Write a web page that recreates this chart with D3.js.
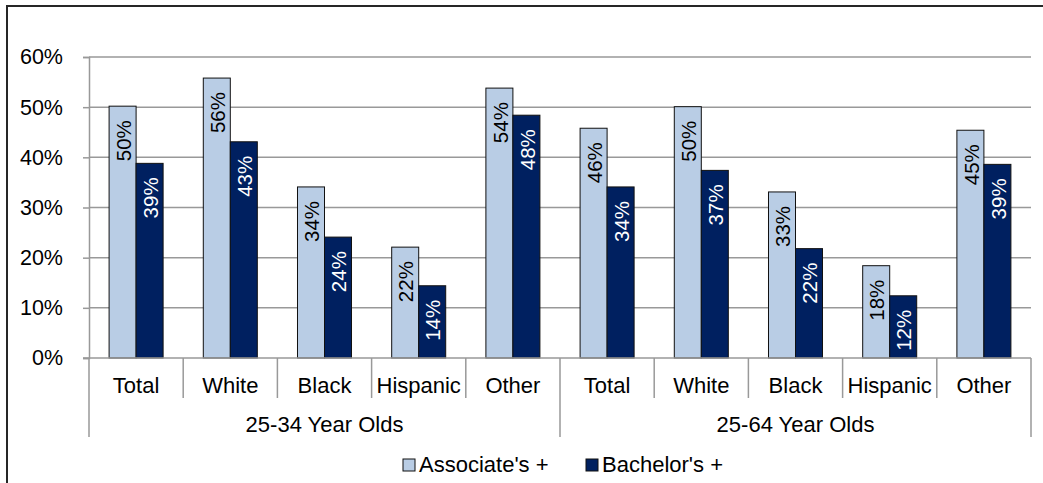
<!DOCTYPE html>
<html>
<head>
<meta charset="utf-8">
<script src="https://cdn.jsdelivr.net/npm/d3@7/dist/d3.min.js"></script>
<style>
  body { margin: 0; background: #fff; }
  svg { display: block; font-family: "Liberation Sans", Arial, sans-serif; }
</style>
</head>
<body>
<div id="chart"></div>
<script>
// chart data
var groups = ["25-34 Year Olds", "25-64 Year Olds"];
var races = ["Total", "White", "Black", "Hispanic", "Other"];
var seriesNames = ["Associate's +", "Bachelor's +"];
var associates = [50.2, 55.8, 34.1, 22.1, 53.8, 45.8, 50.1, 33.1, 18.4, 45.4];
var bachelors = [38.8, 43.1, 24.1, 14.4, 48.4, 34.1, 37.4, 21.8, 12.4, 38.6];
var yTicks = [0, 10, 20, 30, 40, 50, 60];

var seriesColors = ["#b9cde5", "#002060"];
var labelColors = ["#000", "#fff"];

var width = 1043, height = 483;
var margin = { left: 89, right: 12, top: 57, bottom: 125 };
var fontFam = "Liberation Sans, Arial, sans-serif";

var svg = d3.select("#chart").append("svg")
    .attr("width", width)
    .attr("height", height);

// outer frame, runs off right and bottom edges like the picture
svg.append("rect")
    .attr("x", 7).attr("y", 6)
    .attr("width", width + 10).attr("height", height + 10)
    .attr("fill", "none")
    .attr("stroke", "#262626")
    .attr("stroke-width", 2);

// build categories: each group times each race
var cats = [];
groups.forEach(function (g, gi) {
    races.forEach(function (r, ri) {
        cats.push({ key: gi + "-" + r, race: r, group: g, idx: gi * races.length + ri });
    });
});

var plotRight = 1031, plotBottom = 358;
var x = d3.scaleBand().domain(cats.map(function (d) { return d.key; }))
    .range([margin.left, plotRight]).padding(0);
var xs = d3.scaleBand().domain([0, 1]).range([0, x.bandwidth()])
    .paddingInner(0).paddingOuter(0.744);
var y = d3.scaleLinear().domain([0, 60]).range([plotBottom, margin.top]);

var axisColor = "#999";

// gridlines
svg.append("g").selectAll("line")
    .data(yTicks.filter(function (t) { return t > 0; }))
    .enter().append("line")
    .attr("x1", margin.left).attr("x2", plotRight)
    .attr("y1", function (d) { return y(d); })
    .attr("y2", function (d) { return y(d); })
    .attr("stroke", axisColor).attr("stroke-width", 1.5);

// y axis
var yAxis = svg.append("g")
    .attr("transform", "translate(" + margin.left + ",0)")
    .call(d3.axisLeft(y).tickValues(yTicks).tickSize(6).tickPadding(20)
        .tickFormat(function (d) { return d + "%"; }));
yAxis.select(".domain").attr("stroke", axisColor).attr("stroke-width", 1.5);
yAxis.selectAll(".tick line").attr("stroke", axisColor).attr("stroke-width", 1.5);
yAxis.selectAll("text").attr("font-size", 21.5).attr("fill", "#000")
    .attr("font-family", fontFam);

// bars
var seriesValues = [associates, bachelors];
seriesValues.forEach(function (vals, si) {
    var g = svg.append("g");
    g.selectAll("rect").data(cats).enter().append("rect")
        .attr("x", function (d) { return x(d.key) + xs(si); })
        .attr("y", function (d) { return y(vals[d.idx]); })
        .attr("width", xs.bandwidth())
        .attr("height", function (d) { return plotBottom - y(vals[d.idx]); })
        .attr("fill", seriesColors[si])
        .attr("stroke", "#111").attr("stroke-width", 1);

    // rotated value labels inside the bar top
    g.selectAll("text").data(cats).enter().append("text")
        .attr("transform", function (d) {
            var cx = x(d.key) + xs(si) + xs.bandwidth() / 2 + 1;
            var ty = y(vals[d.idx]) + 14;
            return "translate(" + cx + "," + ty + ") rotate(-90)";
        })
        .attr("text-anchor", "end")
        .attr("dy", "0.35em")
        .attr("font-size", 20.5)
        .attr("fill", labelColors[si])
        .text(function (d) { return Math.round(vals[d.idx]) + "%"; });
});

// x axis baseline
svg.append("line")
    .attr("x1", margin.left - 6).attr("x2", plotRight)
    .attr("y1", plotBottom).attr("y2", plotBottom)
    .attr("stroke", axisColor).attr("stroke-width", 1.5);

// category separators: short inside groups, long at group edges
var seps = d3.range(cats.length + 1);
svg.append("g").selectAll("line").data(seps).enter().append("line")
    .attr("x1", function (i) { return i < cats.length ? x(cats[i].key) : plotRight; })
    .attr("x2", function (i) { return i < cats.length ? x(cats[i].key) : plotRight; })
    .attr("y1", plotBottom)
    .attr("y2", function (i) { return i % races.length === 0 ? 437 : 398; })
    .attr("stroke", axisColor).attr("stroke-width", 1.5);

// category labels
svg.append("g").selectAll("text").data(cats).enter().append("text")
    .attr("x", function (d) { return x(d.key) + x.bandwidth() / 2; })
    .attr("y", 392.5)
    .attr("text-anchor", "middle")
    .attr("font-size", 22)
    .text(function (d) { return d.race; });

// group labels
svg.append("g").selectAll("text").data(groups).enter().append("text")
    .attr("x", function (g, gi) {
        var a = x(cats[gi * races.length].key);
        var b = x(cats[gi * races.length + races.length - 1].key) + x.bandwidth();
        return (a + b) / 2;
    })
    .attr("y", 432)
    .attr("text-anchor", "middle")
    .attr("font-size", 22)
    .text(function (d) { return d; });

// legend
var legendX = [403, 586];
var legend = svg.append("g").selectAll("g").data(seriesNames).enter().append("g")
    .attr("transform", function (d, i) { return "translate(" + legendX[i] + ",459)"; });
legend.append("rect")
    .attr("width", 12).attr("height", 12)
    .attr("fill", function (d, i) { return seriesColors[i]; })
    .attr("stroke", "#111").attr("stroke-width", 1);
legend.append("text")
    .attr("x", 16).attr("y", 13)
    .attr("font-size", 22)
    .text(function (d) { return d; });
</script>
</body>
</html>
